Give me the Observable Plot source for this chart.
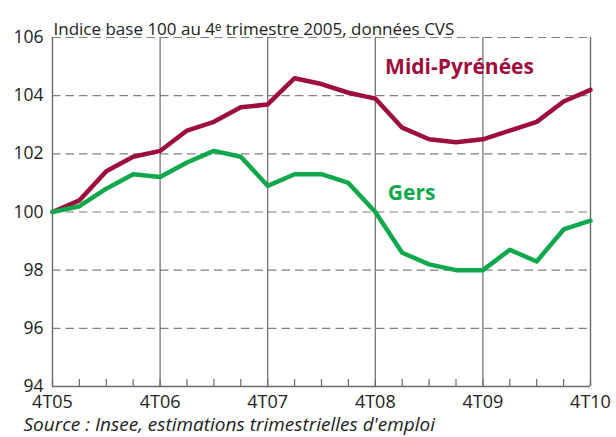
<!DOCTYPE html>
<html>
<head>
<meta charset="utf-8">
<script src="https://cdn.jsdelivr.net/npm/d3@7"></script>
<script src="https://cdn.jsdelivr.net/npm/@observablehq/plot@0.6"></script>
<style>
  html, body { margin: 0; padding: 0; background: #fff; }
  #chart svg { display: block; }
</style>
</head>
<body>
<div id="chart"></div>
<script>
// Quarter index 0 = 4T05 ... 20 = 4T10
const quarters = d3.range(21);
const yearTicks = [0, 4, 8, 12, 16, 20];
const yearLabels = ["4T05", "4T06", "4T07", "4T08", "4T09", "4T10"];
const yTicks = [94, 96, 98, 100, 102, 104, 106];
const gridY = [96, 98, 100, 102, 104, 106];

const midiPyrenees = [100.0, 100.4, 101.4, 101.9, 102.1, 102.8, 103.1, 103.6, 103.7, 104.6, 104.4, 104.1, 103.9, 102.9, 102.5, 102.4, 102.5, 102.8, 103.1, 103.8, 104.2];
const gers = [100.0, 100.2, 100.8, 101.3, 101.2, 101.7, 102.1, 101.9, 100.9, 101.3, 101.3, 101.0, 100.0, 98.6, 98.2, 98.0, 98.0, 98.7, 98.3, 99.4, 99.7];

const seriesNames = ["Midi-Pyrénées", "Gers"];
const seriesColors = ["#9e0e3c", "#10a84c"];
const labelX = [15.13, 13.35];
const labelY = [104.97, 100.64];

const subtitle = "Indice base 100 au 4\u1d49 trimestre 2005, données CVS";
const source = "Source : Insee, estimations trimestrielles d'emploi";

const rows = [];
quarters.forEach((q, i) => {
  rows.push({q, v: midiPyrenees[i], s: seriesNames[0]});
  rows.push({q, v: gers[i], s: seriesNames[1]});
});
const labels = seriesNames.map((s, i) => ({s, x: labelX[i], y: labelY[i]}));

const font = "'Open Sans', sans-serif";
const grey = "#808080";

const chart = Plot.plot({
  width: 616,
  height: 437,
  marginLeft: 52,
  marginRight: 26,
  marginTop: 37,
  marginBottom: 51,
  style: {fontFamily: font, background: "#fff", overflow: "visible"},
  x: {domain: [0, 20]},
  y: {domain: [94, 106]},
  color: {domain: seriesNames, range: seriesColors},
  marks: [
    Plot.ruleY(gridY, {stroke: grey, strokeWidth: 1.2, strokeDasharray: "8.5,5"}),
    Plot.ruleX(yearTicks.slice(1, -1), {stroke: "#6a6a6a", strokeWidth: 1.2}),
    Plot.ruleX([0, 20], {stroke: "#6a6a6a", strokeWidth: 1.4}),
    Plot.ruleY([94], {stroke: "#6a6a6a", strokeWidth: 1.4}),
    Plot.axisX({ticks: quarters, tickSize: 7, dy: -7, tickFormat: () => "", stroke: "#6a6a6a", strokeWidth: 1.2}),
    Plot.axisX({ticks: yearTicks, tickSize: 0, tickPadding: 8.5, tickFormat: (d) => yearLabels[yearTicks.indexOf(d)], fontSize: 18, fill: "#222"}),
    Plot.axisY({ticks: yTicks, tickSize: 0, tickPadding: 9, fontSize: 17.5, fill: "#222", label: null}),
    Plot.line(rows, {x: "q", y: "v", z: "s", stroke: "s", strokeWidth: 4.5, strokeLinejoin: "round"}),
    Plot.text(labels, {x: "x", y: "y", text: "s", fill: "s", fontSize: 21, fontWeight: "bold"}),
    Plot.text([subtitle], {frameAnchor: "top-left", dx: 1, dy: -15, fontSize: 17, fill: "#222", textAnchor: "start"}),
    Plot.text([source], {frameAnchor: "bottom-left", dx: -29, dy: 44.5, fontSize: 19, letterSpacing: "0.8px", fontStyle: "italic", fill: "#222", textAnchor: "start"})
  ]
});
document.getElementById("chart").appendChild(chart);
</script>
</body>
</html>
